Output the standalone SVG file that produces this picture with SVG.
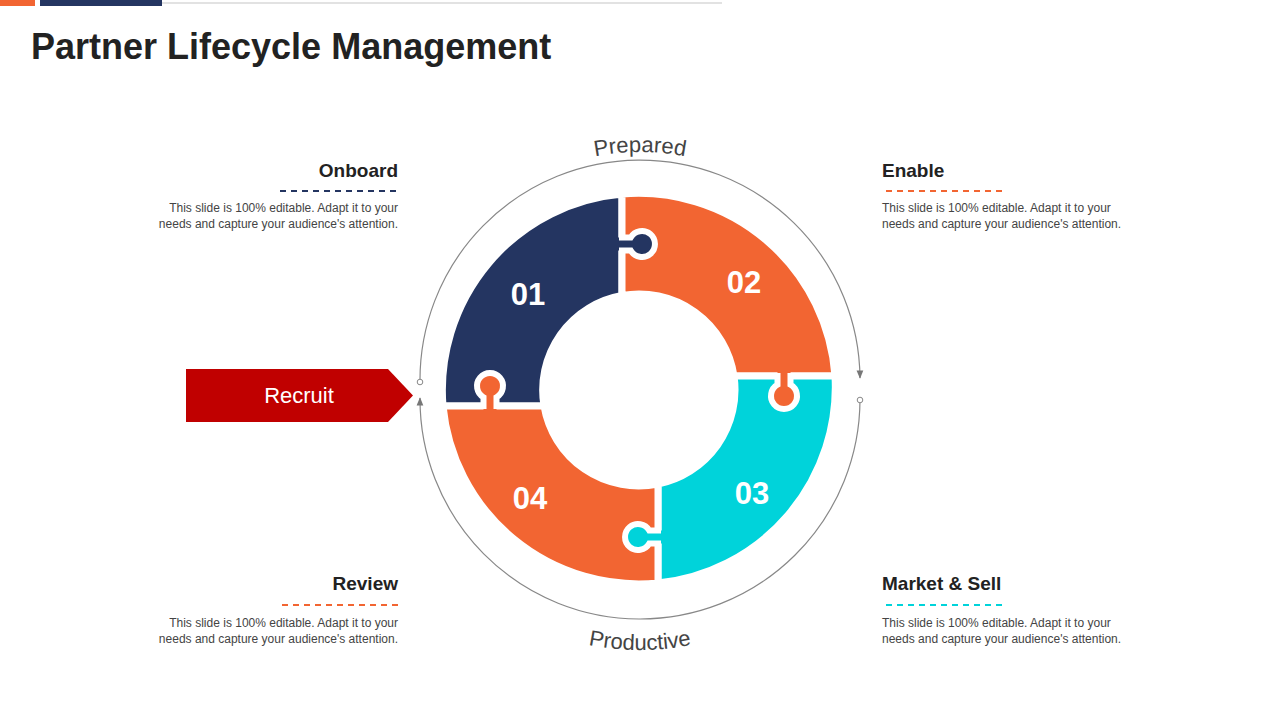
<svg xmlns="http://www.w3.org/2000/svg" width="1280" height="720" viewBox="0 0 1280 720">
<style>
.sec{stroke:#fff;stroke-width:7;stroke-linejoin:round}
.tabs{fill:none;stroke:#fff;stroke-width:6}
.num{font-family:"Liberation Sans",Arial,sans-serif;font-weight:bold;font-size:31px;fill:#fff;text-anchor:middle}
.h{font-family:"Liberation Sans",Arial,sans-serif;font-weight:bold;font-size:19px;fill:#222}
.b{font-family:"Liberation Sans",Arial,sans-serif;font-size:12px;fill:#444}
.r{text-anchor:end}
.arc{fill:none;stroke:#888;stroke-width:1.2}
.lbl{font-family:"Liberation Sans",Arial,sans-serif;font-size:22px;fill:#444}
.dash{stroke-width:2;stroke-dasharray:6 5}
</style>
<defs>
<marker id="ah" viewBox="0 0 10 10" refX="9" refY="5" markerWidth="7" markerHeight="7" orient="auto-start-reverse"><path d="M0,1 L10,5 L0,9 Z" fill="#777"/></marker>
<path id="tabF" d="M-6,-6.5 L8.7,-6.5 A13 13 0 1 1 8.7 6.5 L-6,6.5 Z"/>
<path id="tabS" d="M-3,-6.5 L8.7,-6.5 A13 13 0 1 1 8.7 6.5 L-3,6.5"/>
<path id="pTop" d="M402,390 A238 238 0 0 1 878,390"/>
<path id="pBot" d="M380,390 A260 260 0 0 0 900,390"/>
</defs>
<rect width="1280" height="720" fill="#fff"/>
<g id="topbar">
<line x1="162" y1="3" x2="722" y2="3" stroke="#d9d9d9" stroke-width="1.5"/>
<rect x="0" y="0" width="35" height="6" fill="#F26532"/>
<rect x="40" y="0" width="122" height="6" fill="#243561"/>
</g>
<text x="31" y="59" font-family="'Liberation Sans',Arial,sans-serif" font-weight="bold" font-size="36" fill="#222">Partner Lifecycle Management</text>

<g id="connectors">
<path class="arc" d="M420,382 A220 220 0 0 1 860,378" marker-end="url(#ah)"/>
<path class="arc" d="M860,400 A220 220 0 0 1 420,398" marker-end="url(#ah)"/>
<circle cx="420" cy="382" r="2.8" fill="#fff" stroke="#888"/>
<circle cx="860" cy="400" r="2.8" fill="#fff" stroke="#888"/>
</g>

<g id="ring">
<path class="sec" fill="#243561" d="M443,406 A197 197 0 0 1 622,194 L622,295.5 A96 96 0 0 0 544,406 Z"/>
<path class="sec" fill="#F26532" d="M622,194 A197 197 0 0 1 835,376 L734,376 A96 96 0 0 0 622,295.5 Z"/>
<path class="sec" fill="#00D3DA" d="M835,376 A197 197 0 0 1 658,583 L658,484 A96 96 0 0 0 734,376 Z"/>
<path class="sec" fill="#F26532" d="M658,583 A197 197 0 0 1 443,406 L544,406 A96 96 0 0 0 658,484 Z"/>
<g transform="translate(622,244)"><use href="#tabF" fill="#243561"/><use href="#tabS" class="tabs"/></g>
<g transform="translate(784,376) rotate(90)"><use href="#tabF" fill="#F26532"/><use href="#tabS" class="tabs"/></g>
<g transform="translate(658,537) rotate(180)"><use href="#tabF" fill="#00D3DA"/><use href="#tabS" class="tabs"/></g>
<g transform="translate(490,406) rotate(-90)"><use href="#tabF" fill="#F26532"/><use href="#tabS" class="tabs"/></g>
<text class="num" x="528" y="305">01</text>
<text class="num" x="744" y="293">02</text>
<text class="num" x="752" y="504">03</text>
<text class="num" x="530" y="509">04</text>
</g>

<text class="lbl"><textPath href="#pTop" startOffset="50%" text-anchor="middle">Prepared</textPath></text>
<text class="lbl"><textPath href="#pBot" startOffset="50%" text-anchor="middle">Productive</textPath></text>

<g id="recruit">
<path d="M186,369 L388,369 L413,395.5 L388,422 L186,422 Z" fill="#C00000"/>
<text x="299" y="403" text-anchor="middle" font-family="'Liberation Sans',Arial,sans-serif" font-size="22" fill="#fff">Recruit</text>
</g>

<g id="onboard">
<text class="h r" x="398" y="177">Onboard</text>
<line class="dash" x1="280" y1="191" x2="398" y2="191" stroke="#243561"/>
<text class="b r" x="398" y="212">This slide is 100% editable. Adapt it to your</text>
<text class="b r" x="398" y="228">needs and capture your audience's attention.</text>
</g>
<g id="enable">
<text class="h" x="882" y="177">Enable</text>
<line class="dash" x1="886" y1="191" x2="1004" y2="191" stroke="#F26532"/>
<text class="b" x="882" y="212">This slide is 100% editable. Adapt it to your</text>
<text class="b" x="882" y="228">needs and capture your audience's attention.</text>
</g>
<g id="review">
<text class="h r" x="398" y="590">Review</text>
<line class="dash" x1="282" y1="605" x2="398" y2="605" stroke="#F26532"/>
<text class="b r" x="398" y="627">This slide is 100% editable. Adapt it to your</text>
<text class="b r" x="398" y="643">needs and capture your audience's attention.</text>
</g>
<g id="market">
<text class="h" x="882" y="590">Market &amp; Sell</text>
<line class="dash" x1="886" y1="605" x2="1004" y2="605" stroke="#00D3DA"/>
<text class="b" x="882" y="627">This slide is 100% editable. Adapt it to your</text>
<text class="b" x="882" y="643">needs and capture your audience's attention.</text>
</g>
</svg>
